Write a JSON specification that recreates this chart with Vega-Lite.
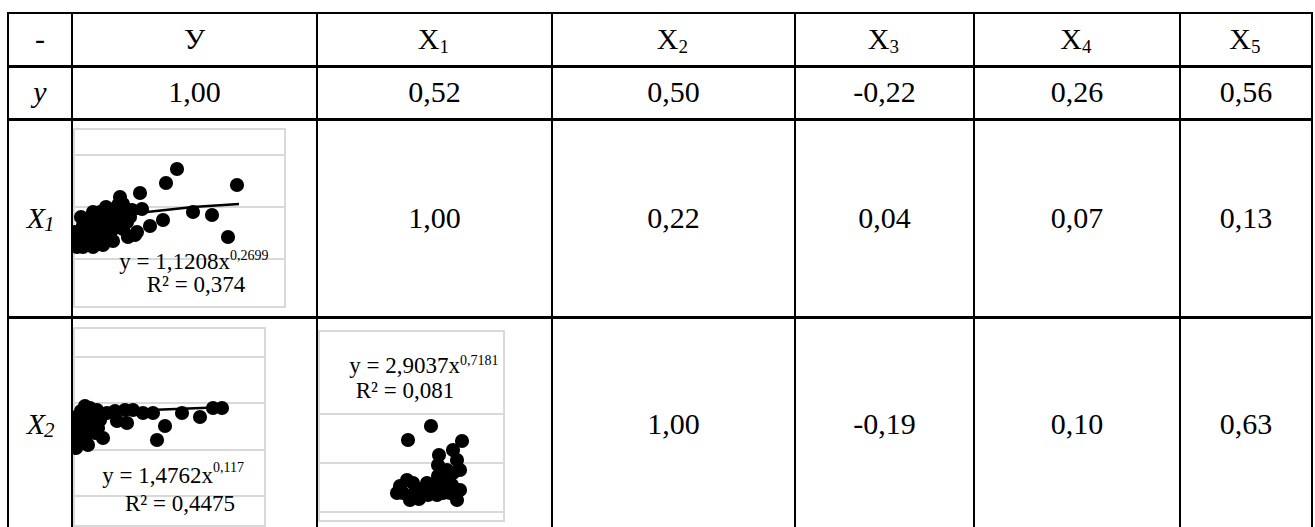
{
  "$schema": "https://vega.github.io/schema/vega-lite/v6.json",
  "padding": {"left": 7, "top": 12, "right": 2, "bottom": -3},
  "config": {
    "view": {"stroke": "#000000", "strokeWidth": 2},
    "font": "Liberation Serif",
    "text": {"font": "Liberation Serif", "color": "#000000"}
  },
  "spacing": -2,
  "vconcat": [
    {
      "spacing": 0,
      "bounds": "flush",
      "hconcat": [
        {"width": 64, "height": 53, "data": {"values": [{"v": "-"}]}, "mark": {"type": "text", "fontSize": 30, "font": "Liberation Serif"},
         "encoding": {"x": {"datum": 0, "type": "quantitative", "scale": {"domain": [-1, 1]}, "axis": null}, "y": {"datum": 0, "type": "quantitative", "scale": {"domain": [-1, 1]}, "axis": null}, "text": {"field": "v"}}},
        {"width": 245, "height": 53, "data": {"values": [{"v": "У"}]}, "mark": {"type": "text", "fontSize": 30, "font": "Liberation Serif"},
         "encoding": {"x": {"datum": 0, "type": "quantitative", "scale": {"domain": [-1, 1]}, "axis": null}, "y": {"datum": 0, "type": "quantitative", "scale": {"domain": [-1, 1]}, "axis": null}, "text": {"field": "v"}}},
        {"width": 235, "height": 53, "data": {"values": [{"b": "X", "s": "1"}]},
         "encoding": {"x": {"datum": 0, "type": "quantitative", "scale": {"domain": [-1, 1]}, "axis": null}, "y": {"datum": 0, "type": "quantitative", "scale": {"domain": [-1, 1]}, "axis": null}},
         "layer": [
          {"mark": {"type": "text", "fontSize": 30, "font": "Liberation Serif", "align": "right", "dx": 5}, "encoding": {"text": {"field": "b"}}},
          {"mark": {"type": "text", "fontSize": 19, "font": "Liberation Serif", "align": "left", "dx": 5, "dy": 7}, "encoding": {"text": {"field": "s"}}}
        ]},
        {"width": 243, "height": 53, "data": {"values": [{"b": "X", "s": "2"}]},
         "encoding": {"x": {"datum": 0, "type": "quantitative", "scale": {"domain": [-1, 1]}, "axis": null}, "y": {"datum": 0, "type": "quantitative", "scale": {"domain": [-1, 1]}, "axis": null}},
         "layer": [
          {"mark": {"type": "text", "fontSize": 30, "font": "Liberation Serif", "align": "right", "dx": 5}, "encoding": {"text": {"field": "b"}}},
          {"mark": {"type": "text", "fontSize": 19, "font": "Liberation Serif", "align": "left", "dx": 5, "dy": 7}, "encoding": {"text": {"field": "s"}}}
        ]},
        {"width": 179, "height": 53, "data": {"values": [{"b": "X", "s": "3"}]},
         "encoding": {"x": {"datum": 0, "type": "quantitative", "scale": {"domain": [-1, 1]}, "axis": null}, "y": {"datum": 0, "type": "quantitative", "scale": {"domain": [-1, 1]}, "axis": null}},
         "layer": [
          {"mark": {"type": "text", "fontSize": 30, "font": "Liberation Serif", "align": "right", "dx": 5}, "encoding": {"text": {"field": "b"}}},
          {"mark": {"type": "text", "fontSize": 19, "font": "Liberation Serif", "align": "left", "dx": 5, "dy": 7}, "encoding": {"text": {"field": "s"}}}
        ]},
        {"width": 206, "height": 53, "data": {"values": [{"b": "X", "s": "4"}]},
         "encoding": {"x": {"datum": 0, "type": "quantitative", "scale": {"domain": [-1, 1]}, "axis": null}, "y": {"datum": 0, "type": "quantitative", "scale": {"domain": [-1, 1]}, "axis": null}},
         "layer": [
          {"mark": {"type": "text", "fontSize": 30, "font": "Liberation Serif", "align": "right", "dx": 5}, "encoding": {"text": {"field": "b"}}},
          {"mark": {"type": "text", "fontSize": 19, "font": "Liberation Serif", "align": "left", "dx": 5, "dy": 7}, "encoding": {"text": {"field": "s"}}}
        ]},
        {"width": 132, "height": 53, "data": {"values": [{"b": "X", "s": "5"}]},
         "encoding": {"x": {"datum": 0, "type": "quantitative", "scale": {"domain": [-1, 1]}, "axis": null}, "y": {"datum": 0, "type": "quantitative", "scale": {"domain": [-1, 1]}, "axis": null}},
         "layer": [
          {"mark": {"type": "text", "fontSize": 30, "font": "Liberation Serif", "align": "right", "dx": 5}, "encoding": {"text": {"field": "b"}}},
          {"mark": {"type": "text", "fontSize": 19, "font": "Liberation Serif", "align": "left", "dx": 5, "dy": 7}, "encoding": {"text": {"field": "s"}}}
        ]}
      ]
    },
    {
      "spacing": 0,
      "bounds": "flush",
      "hconcat": [
        {"width": 64, "height": 52, "data": {"values": [{"v": "y"}]}, "mark": {"type": "text", "fontSize": 30, "font": "Liberation Serif", "fontStyle": "italic"},
         "encoding": {"x": {"datum": 0, "type": "quantitative", "scale": {"domain": [-1, 1]}, "axis": null}, "y": {"datum": 0, "type": "quantitative", "scale": {"domain": [-1, 1]}, "axis": null}, "text": {"field": "v"}}},
        {"width": 245, "height": 52, "data": {"values": [{"v": "1,00"}]}, "mark": {"type": "text", "fontSize": 30, "font": "Liberation Serif"},
         "encoding": {"x": {"datum": 0, "type": "quantitative", "scale": {"domain": [-1, 1]}, "axis": null}, "y": {"datum": 0, "type": "quantitative", "scale": {"domain": [-1, 1]}, "axis": null}, "text": {"field": "v"}}},
        {"width": 235, "height": 52, "data": {"values": [{"v": "0,52"}]}, "mark": {"type": "text", "fontSize": 30, "font": "Liberation Serif"},
         "encoding": {"x": {"datum": 0, "type": "quantitative", "scale": {"domain": [-1, 1]}, "axis": null}, "y": {"datum": 0, "type": "quantitative", "scale": {"domain": [-1, 1]}, "axis": null}, "text": {"field": "v"}}},
        {"width": 243, "height": 52, "data": {"values": [{"v": "0,50"}]}, "mark": {"type": "text", "fontSize": 30, "font": "Liberation Serif"},
         "encoding": {"x": {"datum": 0, "type": "quantitative", "scale": {"domain": [-1, 1]}, "axis": null}, "y": {"datum": 0, "type": "quantitative", "scale": {"domain": [-1, 1]}, "axis": null}, "text": {"field": "v"}}},
        {"width": 179, "height": 52, "data": {"values": [{"v": "-0,22"}]}, "mark": {"type": "text", "fontSize": 30, "font": "Liberation Serif"},
         "encoding": {"x": {"datum": 0, "type": "quantitative", "scale": {"domain": [-1, 1]}, "axis": null}, "y": {"datum": 0, "type": "quantitative", "scale": {"domain": [-1, 1]}, "axis": null}, "text": {"field": "v"}}},
        {"width": 206, "height": 52, "data": {"values": [{"v": "0,26"}]}, "mark": {"type": "text", "fontSize": 30, "font": "Liberation Serif"},
         "encoding": {"x": {"datum": 0, "type": "quantitative", "scale": {"domain": [-1, 1]}, "axis": null}, "y": {"datum": 0, "type": "quantitative", "scale": {"domain": [-1, 1]}, "axis": null}, "text": {"field": "v"}}},
        {"width": 132, "height": 52, "data": {"values": [{"v": "0,56"}]}, "mark": {"type": "text", "fontSize": 30, "font": "Liberation Serif"},
         "encoding": {"x": {"datum": 0, "type": "quantitative", "scale": {"domain": [-1, 1]}, "axis": null}, "y": {"datum": 0, "type": "quantitative", "scale": {"domain": [-1, 1]}, "axis": null}, "text": {"field": "v"}}}
      ]
    },
    {
      "spacing": 0,
      "bounds": "flush",
      "hconcat": [
        {"width": 64, "height": 197, "data": {"values": [{"b": "X", "s": "1"}]},
         "encoding": {"x": {"datum": 0, "type": "quantitative", "scale": {"domain": [-1, 1]}, "axis": null}, "y": {"datum": 0, "type": "quantitative", "scale": {"domain": [-1, 1]}, "axis": null}},
         "layer": [
          {"mark": {"type": "text", "fontSize": 30, "font": "Liberation Serif", "fontStyle": "italic", "align": "right", "dx": 5}, "encoding": {"text": {"field": "b"}}},
          {"mark": {"type": "text", "fontSize": 21, "font": "Liberation Serif", "fontStyle": "italic", "align": "left", "dx": 4, "dy": 6}, "encoding": {"text": {"field": "s"}}}
        ]},
        {
          "width": 245, "height": 197,
          "layer": [
            {"data": {"values": [{}]}, "mark": {"type": "rect", "fillOpacity": 0, "stroke": "#d9d9d9", "strokeWidth": 2},
             "encoding": {
               "x": {"datum": 1, "type": "quantitative", "scale": {"domain": [-1, 244], "nice": false, "zero": false}, "axis": null},
               "x2": {"datum": 212},
               "y": {"datum": 0, "type": "quantitative", "scale": {"domain": [-10, 187], "nice": false, "zero": false}, "axis": null},
               "y2": {"datum": 178}}},
            {"data": {"values": [{"g": 48}, {"g": 100}, {"g": 152}]}, "mark": {"type": "rule", "color": "#d9d9d9", "strokeWidth": 2},
             "encoding": {"y": {"field": "g", "type": "quantitative", "axis": null}, "x": {"datum": 1, "type": "quantitative", "axis": null}, "x2": {"datum": 212}}},
            {"data": {"values": [{"x": 3, "y": 70}, {"x": 20, "y": 84}, {"x": 45, "y": 90}, {"x": 74, "y": 95}, {"x": 120, "y": 100}, {"x": 166, "y": 103}]},
             "mark": {"type": "line", "color": "#000000", "strokeWidth": 2.5},
             "encoding": {"x": {"field": "x", "type": "quantitative", "axis": null}, "y": {"field": "y", "type": "quantitative", "axis": null}}},
            {"data": {"values": [
              {"x": 104, "y": 138}, {"x": 93, "y": 124}, {"x": 164, "y": 122}, {"x": 67, "y": 114}, {"x": 47, "y": 110},
              {"x": 69, "y": 98}, {"x": 120, "y": 95}, {"x": 139, "y": 92}, {"x": 90, "y": 87}, {"x": 77, "y": 81},
              {"x": 62, "y": 72}, {"x": 155, "y": 70}, {"x": 33, "y": 100}, {"x": 50, "y": 103}, {"x": 59, "y": 97},
              {"x": 44, "y": 88}, {"x": 20, "y": 95}, {"x": 24, "y": 85}, {"x": 54, "y": 85}, {"x": 10, "y": 82},
              {"x": 37, "y": 72}, {"x": 27, "y": 68}, {"x": 7, "y": 65}, {"x": 5, "y": 70}, {"x": 24, "y": 65},
              {"x": 14, "y": 75}, {"x": 40, "y": 78}, {"x": 64, "y": 75}, {"x": 4, "y": 60}, {"x": 15, "y": 88},
              {"x": 34, "y": 88}, {"x": 27, "y": 95}, {"x": 47, "y": 95}, {"x": 37, "y": 82}, {"x": 17, "y": 67},
              {"x": 45, "y": 102}, {"x": 2, "y": 75}, {"x": 8, "y": 90}, {"x": 12, "y": 70}, {"x": 18, "y": 78},
              {"x": 22, "y": 72}, {"x": 30, "y": 80}, {"x": 30, "y": 62}, {"x": 40, "y": 66}, {"x": 50, "y": 78},
              {"x": 55, "y": 70}, {"x": 10, "y": 60}, {"x": 20, "y": 60}, {"x": 35, "y": 95}, {"x": 57, "y": 90}]},
             "mark": {"type": "circle", "color": "#000000", "opacity": 1, "size": 200, "clip": true},
             "encoding": {"x": {"field": "x", "type": "quantitative", "axis": null}, "y": {"field": "y", "type": "quantitative", "axis": null}}},
            {"data": {"values": [{"t": "y = 1,1208x"}]}, "mark": {"type": "text", "align": "right", "baseline": "alphabetic", "fontSize": 23, "font": "Liberation Serif"},
             "encoding": {"x": {"datum": 157, "type": "quantitative", "axis": null}, "y": {"datum": 38, "type": "quantitative", "axis": null}, "text": {"field": "t"}}},
            {"data": {"values": [{"t": "0,2699"}]}, "mark": {"type": "text", "align": "left", "baseline": "alphabetic", "fontSize": 14, "font": "Liberation Serif"},
             "encoding": {"x": {"datum": 157, "type": "quantitative", "axis": null}, "y": {"datum": 47, "type": "quantitative", "axis": null}, "text": {"field": "t"}}},
            {"data": {"values": [{"t": "R² = 0,374"}]}, "mark": {"type": "text", "align": "center", "baseline": "alphabetic", "fontSize": 23, "font": "Liberation Serif"},
             "encoding": {"x": {"datum": 123, "type": "quantitative", "axis": null}, "y": {"datum": 15, "type": "quantitative", "axis": null}, "text": {"field": "t"}}}
          ]
        },
        {"width": 235, "height": 197, "data": {"values": [{"v": "1,00"}]}, "mark": {"type": "text", "fontSize": 30, "font": "Liberation Serif"},
         "encoding": {"x": {"datum": 0, "type": "quantitative", "scale": {"domain": [-1, 1]}, "axis": null}, "y": {"datum": 0, "type": "quantitative", "scale": {"domain": [-1, 1]}, "axis": null}, "text": {"field": "v"}}},
        {"width": 243, "height": 197, "data": {"values": [{"v": "0,22"}]}, "mark": {"type": "text", "fontSize": 30, "font": "Liberation Serif"},
         "encoding": {"x": {"datum": 0, "type": "quantitative", "scale": {"domain": [-1, 1]}, "axis": null}, "y": {"datum": 0, "type": "quantitative", "scale": {"domain": [-1, 1]}, "axis": null}, "text": {"field": "v"}}},
        {"width": 179, "height": 197, "data": {"values": [{"v": "0,04"}]}, "mark": {"type": "text", "fontSize": 30, "font": "Liberation Serif"},
         "encoding": {"x": {"datum": 0, "type": "quantitative", "scale": {"domain": [-1, 1]}, "axis": null}, "y": {"datum": 0, "type": "quantitative", "scale": {"domain": [-1, 1]}, "axis": null}, "text": {"field": "v"}}},
        {"width": 206, "height": 197, "data": {"values": [{"v": "0,07"}]}, "mark": {"type": "text", "fontSize": 30, "font": "Liberation Serif"},
         "encoding": {"x": {"datum": 0, "type": "quantitative", "scale": {"domain": [-1, 1]}, "axis": null}, "y": {"datum": 0, "type": "quantitative", "scale": {"domain": [-1, 1]}, "axis": null}, "text": {"field": "v"}}},
        {"width": 132, "height": 197, "data": {"values": [{"v": "0,13"}]}, "mark": {"type": "text", "fontSize": 30, "font": "Liberation Serif"},
         "encoding": {"x": {"datum": 0, "type": "quantitative", "scale": {"domain": [-1, 1]}, "axis": null}, "y": {"datum": 0, "type": "quantitative", "scale": {"domain": [-1, 1]}, "axis": null}, "text": {"field": "v"}}}
      ]
    },
    {
      "spacing": 0,
      "bounds": "flush",
      "hconcat": [
        {"width": 64, "height": 214, "data": {"values": [{"b": "X", "s": "2"}]},
         "encoding": {"x": {"datum": 0, "type": "quantitative", "scale": {"domain": [-1, 1]}, "axis": null}, "y": {"datum": 0, "type": "quantitative", "scale": {"domain": [-1, 1]}, "axis": null}},
         "layer": [
          {"mark": {"type": "text", "fontSize": 30, "font": "Liberation Serif", "fontStyle": "italic", "align": "right", "dx": 5}, "encoding": {"text": {"field": "b"}}},
          {"mark": {"type": "text", "fontSize": 21, "font": "Liberation Serif", "fontStyle": "italic", "align": "left", "dx": 4, "dy": 6}, "encoding": {"text": {"field": "s"}}}
        ]},
        {
          "width": 245, "height": 214,
          "layer": [
            {"data": {"values": [{}]}, "mark": {"type": "rect", "fillOpacity": 0, "stroke": "#d9d9d9", "strokeWidth": 2},
             "encoding": {
               "x": {"datum": 1, "type": "quantitative", "scale": {"domain": [-1, 244], "nice": false, "zero": false}, "axis": null},
               "x2": {"datum": 192},
               "y": {"datum": 0, "type": "quantitative", "scale": {"domain": [-6, 208], "nice": false, "zero": false}, "axis": null},
               "y2": {"datum": 198}}},
            {"data": {"values": [{"g": 30}, {"g": 76}, {"g": 123}, {"g": 169}]}, "mark": {"type": "rule", "color": "#d9d9d9", "strokeWidth": 2},
             "encoding": {"y": {"field": "g", "type": "quantitative", "axis": null}, "x": {"datum": 1, "type": "quantitative", "axis": null}, "x2": {"datum": 192}}},
            {"data": {"values": [{"x": 4, "y": 108}, {"x": 30, "y": 113}, {"x": 77, "y": 116}, {"x": 154, "y": 119}]},
             "mark": {"type": "line", "color": "#000000", "strokeWidth": 2.5},
             "encoding": {"x": {"field": "x", "type": "quantitative", "axis": null}, "y": {"field": "y", "type": "quantitative", "axis": null}}},
            {"data": {"values": [
              {"x": 149, "y": 118}, {"x": 140, "y": 118}, {"x": 127, "y": 109}, {"x": 109, "y": 113}, {"x": 92, "y": 100},
              {"x": 84, "y": 86}, {"x": 80, "y": 113}, {"x": 70, "y": 113}, {"x": 60, "y": 116}, {"x": 52, "y": 116},
              {"x": 42, "y": 115}, {"x": 34, "y": 113}, {"x": 24, "y": 116}, {"x": 17, "y": 118}, {"x": 44, "y": 105},
              {"x": 54, "y": 103}, {"x": 30, "y": 88}, {"x": 7, "y": 103}, {"x": 10, "y": 93}, {"x": 7, "y": 83},
              {"x": 14, "y": 113}, {"x": 20, "y": 103}, {"x": 27, "y": 106}, {"x": 5, "y": 90}, {"x": 15, "y": 81},
              {"x": 3, "y": 78}, {"x": 22, "y": 93}, {"x": 5, "y": 110}, {"x": 12, "y": 120}, {"x": 3, "y": 95},
              {"x": 8, "y": 115}, {"x": 10, "y": 100}, {"x": 4, "y": 85}, {"x": 18, "y": 110}, {"x": 12, "y": 87},
              {"x": 25, "y": 98}, {"x": 2, "y": 100}]},
             "mark": {"type": "circle", "color": "#000000", "opacity": 1, "size": 200, "clip": true},
             "encoding": {"x": {"field": "x", "type": "quantitative", "axis": null}, "y": {"field": "y", "type": "quantitative", "axis": null}}},
            {"data": {"values": [{"t": "y = 1,4762x"}]}, "mark": {"type": "text", "align": "right", "baseline": "alphabetic", "fontSize": 23, "font": "Liberation Serif"},
             "encoding": {"x": {"datum": 140, "type": "quantitative", "axis": null}, "y": {"datum": 43, "type": "quantitative", "axis": null}, "text": {"field": "t"}}},
            {"data": {"values": [{"t": "0,117"}]}, "mark": {"type": "text", "align": "left", "baseline": "alphabetic", "fontSize": 14, "font": "Liberation Serif"},
             "encoding": {"x": {"datum": 140, "type": "quantitative", "axis": null}, "y": {"datum": 54, "type": "quantitative", "axis": null}, "text": {"field": "t"}}},
            {"data": {"values": [{"t": "R² = 0,4475"}]}, "mark": {"type": "text", "align": "center", "baseline": "alphabetic", "fontSize": 23, "font": "Liberation Serif"},
             "encoding": {"x": {"datum": 107, "type": "quantitative", "axis": null}, "y": {"datum": 15, "type": "quantitative", "axis": null}, "text": {"field": "t"}}}
          ]
        },
        {
          "width": 235, "height": 214,
          "layer": [
            {"data": {"values": [{}]}, "mark": {"type": "rect", "fillOpacity": 0, "stroke": "#d9d9d9", "strokeWidth": 2},
             "encoding": {
               "x": {"datum": 0, "type": "quantitative", "scale": {"domain": [-2, 233], "nice": false, "zero": false}, "axis": null},
               "x2": {"datum": 185},
               "y": {"datum": 0, "type": "quantitative", "scale": {"domain": [-11, 203], "nice": false, "zero": false}, "axis": null},
               "y2": {"datum": 190}}},
            {"data": {"values": [{"g": 9}, {"g": 58}, {"g": 107}]}, "mark": {"type": "rule", "color": "#d9d9d9", "strokeWidth": 2},
             "encoding": {"y": {"field": "g", "type": "quantitative", "axis": null}, "x": {"datum": 0, "type": "quantitative", "axis": null}, "x2": {"datum": 185}}},
            {"data": {"values": [
              {"x": 112, "y": 95}, {"x": 89, "y": 81}, {"x": 143, "y": 80}, {"x": 134, "y": 71}, {"x": 120, "y": 66},
              {"x": 138, "y": 61}, {"x": 119, "y": 56}, {"x": 141, "y": 51}, {"x": 119, "y": 45}, {"x": 88, "y": 41},
              {"x": 81, "y": 35}, {"x": 94, "y": 38}, {"x": 101, "y": 31}, {"x": 108, "y": 38}, {"x": 84, "y": 28},
              {"x": 91, "y": 21}, {"x": 114, "y": 31}, {"x": 124, "y": 35}, {"x": 131, "y": 28}, {"x": 141, "y": 31},
              {"x": 138, "y": 21}, {"x": 128, "y": 41}, {"x": 118, "y": 26}, {"x": 78, "y": 28}, {"x": 109, "y": 26},
              {"x": 128, "y": 51}, {"x": 134, "y": 48}, {"x": 100, "y": 22}, {"x": 96, "y": 28}, {"x": 106, "y": 33},
              {"x": 120, "y": 38}, {"x": 124, "y": 28}, {"x": 133, "y": 36}]},
             "mark": {"type": "circle", "color": "#000000", "opacity": 1, "size": 200, "clip": true},
             "encoding": {"x": {"field": "x", "type": "quantitative", "axis": null}, "y": {"field": "y", "type": "quantitative", "axis": null}}},
            {"data": {"values": [{"t": "y = 2,9037x"}]}, "mark": {"type": "text", "align": "right", "baseline": "alphabetic", "fontSize": 23, "font": "Liberation Serif"},
             "encoding": {"x": {"datum": 141, "type": "quantitative", "axis": null}, "y": {"datum": 148, "type": "quantitative", "axis": null}, "text": {"field": "t"}}},
            {"data": {"values": [{"t": "0,7181"}]}, "mark": {"type": "text", "align": "left", "baseline": "alphabetic", "fontSize": 14, "font": "Liberation Serif"},
             "encoding": {"x": {"datum": 141, "type": "quantitative", "axis": null}, "y": {"datum": 156, "type": "quantitative", "axis": null}, "text": {"field": "t"}}},
            {"data": {"values": [{"t": "R² = 0,081"}]}, "mark": {"type": "text", "align": "center", "baseline": "alphabetic", "fontSize": 23, "font": "Liberation Serif"},
             "encoding": {"x": {"datum": 86, "type": "quantitative", "axis": null}, "y": {"datum": 123, "type": "quantitative", "axis": null}, "text": {"field": "t"}}}
          ]
        },
        {"width": 243, "height": 214, "data": {"values": [{"v": "1,00"}]}, "mark": {"type": "text", "fontSize": 30, "font": "Liberation Serif"},
         "encoding": {"x": {"datum": 0, "type": "quantitative", "scale": {"domain": [-1, 1]}, "axis": null}, "y": {"datum": 0, "type": "quantitative", "scale": {"domain": [-1, 1]}, "axis": null}, "text": {"field": "v"}}},
        {"width": 179, "height": 214, "data": {"values": [{"v": "-0,19"}]}, "mark": {"type": "text", "fontSize": 30, "font": "Liberation Serif"},
         "encoding": {"x": {"datum": 0, "type": "quantitative", "scale": {"domain": [-1, 1]}, "axis": null}, "y": {"datum": 0, "type": "quantitative", "scale": {"domain": [-1, 1]}, "axis": null}, "text": {"field": "v"}}},
        {"width": 206, "height": 214, "data": {"values": [{"v": "0,10"}]}, "mark": {"type": "text", "fontSize": 30, "font": "Liberation Serif"},
         "encoding": {"x": {"datum": 0, "type": "quantitative", "scale": {"domain": [-1, 1]}, "axis": null}, "y": {"datum": 0, "type": "quantitative", "scale": {"domain": [-1, 1]}, "axis": null}, "text": {"field": "v"}}},
        {"width": 132, "height": 214, "data": {"values": [{"v": "0,63"}]}, "mark": {"type": "text", "fontSize": 30, "font": "Liberation Serif"},
         "encoding": {"x": {"datum": 0, "type": "quantitative", "scale": {"domain": [-1, 1]}, "axis": null}, "y": {"datum": 0, "type": "quantitative", "scale": {"domain": [-1, 1]}, "axis": null}, "text": {"field": "v"}}}
      ]
    }
  ]
}
